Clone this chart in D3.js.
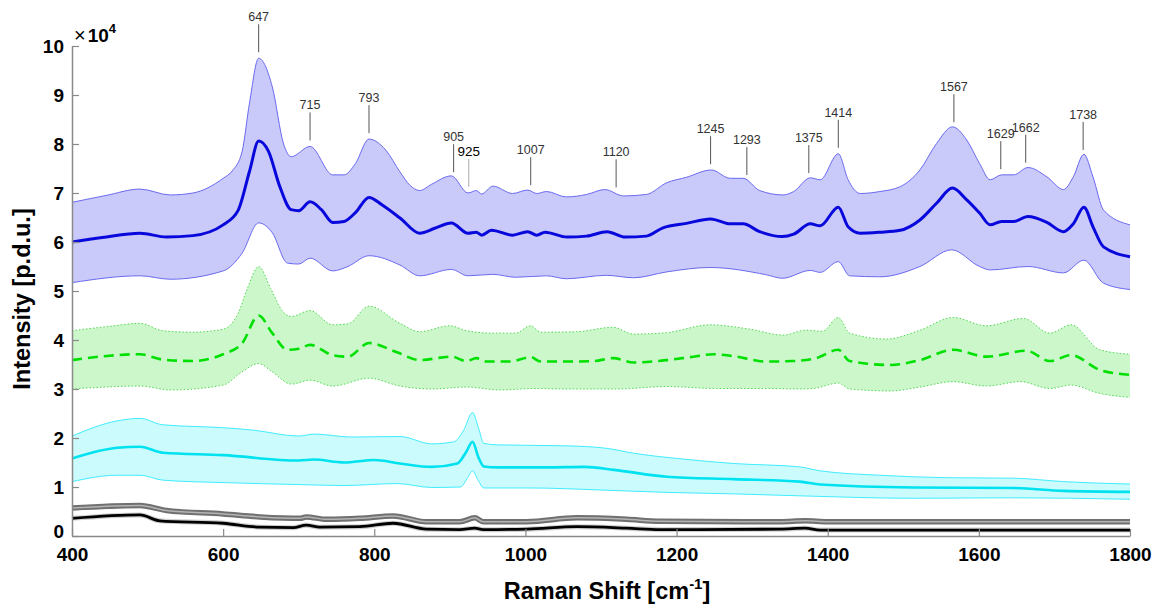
<!DOCTYPE html>
<html>
<head>
<meta charset="utf-8">
<script src="https://cdn.jsdelivr.net/npm/d3@7"></script>
<style>
  body { margin: 0; background: #fff; }
  svg { display: block; font-family: "Liberation Sans", Arial, sans-serif; }
</style>
</head>
<body>
<svg id="chart" width="1157" height="605"></svg>
<script>
// Raman spectra: mean ± SD per group, intensity in units of 10^4 p.d.u.
const xTicks = [400, 600, 800, 1000, 1200, 1400, 1600, 1800];
const yTicks = [0, 1, 2, 3, 4, 5, 6, 7, 8, 9, 10];
const peakLabels = [647, 715, 793, 905, 925, 1007, 1120, 1245, 1293, 1375, 1414, 1567, 1629, 1662, 1738];

const blueMean = [[400,6.0],[440,6.09],[490,6.18],[525,6.1],[560,6.13],[600,6.35],[620,6.65],[635,7.45],[647,8.06],[660,7.85],[675,7.13],[690,6.66],[700,6.64],[715,6.82],[730,6.66],[745,6.4],[760,6.42],[775,6.6],[793,6.91],[810,6.76],[834,6.49],[860,6.18],[880,6.28],[902,6.39],[924,6.18],[935,6.2],[942,6.14],[955,6.24],[983,6.14],[1003,6.21],[1015,6.14],[1026,6.2],[1055,6.1],[1081,6.12],[1108,6.21],[1132,6.1],[1160,6.12],[1182,6.29],[1213,6.38],[1245,6.47],[1271,6.37],[1288,6.37],[1310,6.21],[1340,6.11],[1355,6.16],[1377,6.37],[1390,6.33],[1414,6.71],[1427,6.31],[1443,6.18],[1469,6.2],[1496,6.24],[1522,6.45],[1544,6.79],[1565,7.1],[1584,6.86],[1601,6.59],[1615,6.35],[1630,6.42],[1646,6.42],[1665,6.52],[1690,6.4],[1712,6.21],[1725,6.37],[1739,6.71],[1751,6.31],[1765,5.9],[1800,5.7]];
const blueUpper = [[400,6.81],[445,6.95],[490,7.08],[530,6.96],[560,7.0],[600,7.3],[612,7.45],[625,7.84],[635,8.85],[647,9.75],[665,9.17],[680,8.0],[690,7.74],[715,7.95],[745,7.37],[760,7.37],[775,7.6],[793,8.1],[815,7.88],[834,7.43],[847,7.16],[860,7.05],[876,7.18],[902,7.35],[924,7.0],[935,7.05],[942,6.98],[957,7.14],[983,6.99],[1003,7.06],[1015,6.99],[1028,7.03],[1054,6.92],[1081,6.97],[1105,7.07],[1130,6.94],[1160,6.97],[1187,7.21],[1213,7.32],[1246,7.47],[1271,7.3],[1288,7.3],[1310,7.05],[1341,6.96],[1355,7.03],[1377,7.31],[1390,7.27],[1414,7.8],[1427,7.27],[1443,6.99],[1469,7.03],[1496,7.13],[1522,7.47],[1544,8.01],[1565,8.35],[1584,8.08],[1601,7.6],[1615,7.27],[1630,7.37],[1646,7.37],[1665,7.52],[1690,7.33],[1712,7.07],[1725,7.33],[1739,7.79],[1751,7.33],[1765,6.65],[1800,6.35]];
const blueLower = [[400,5.17],[490,5.31],[530,5.24],[600,5.41],[625,5.77],[647,6.39],[665,6.19],[685,5.57],[700,5.55],[715,5.67],[745,5.41],[765,5.5],[793,5.72],[834,5.53],[860,5.31],[902,5.44],[924,5.31],[957,5.34],[987,5.28],[1028,5.31],[1054,5.25],[1107,5.32],[1143,5.27],[1187,5.39],[1244,5.48],[1319,5.33],[1340,5.26],[1377,5.42],[1390,5.38],[1414,5.6],[1429,5.31],[1469,5.29],[1522,5.5],[1564,5.84],[1601,5.5],[1615,5.43],[1665,5.5],[1712,5.37],[1739,5.63],[1765,5.16],[1800,5.03]];

const greenMean = [[400,3.59],[450,3.68],[490,3.71],[520,3.6],[560,3.57],[600,3.71],[625,3.93],[647,4.5],[665,4.14],[685,3.8],[700,3.82],[715,3.9],[745,3.69],[765,3.66],[793,3.94],[830,3.75],[860,3.59],[902,3.66],[922,3.57],[935,3.63],[949,3.56],[980,3.56],[1007,3.65],[1020,3.56],[1055,3.56],[1090,3.57],[1116,3.63],[1143,3.54],[1187,3.59],[1218,3.65],[1249,3.71],[1275,3.67],[1319,3.56],[1354,3.57],[1385,3.63],[1414,3.8],[1429,3.57],[1483,3.49],[1522,3.59],[1566,3.8],[1610,3.66],[1663,3.78],[1694,3.57],[1722,3.69],[1760,3.39],[1800,3.29]];
const greenUpper = [[400,4.19],[450,4.28],[490,4.34],[520,4.19],[560,4.16],[600,4.22],[620,4.55],[632,5.05],[647,5.5],[663,5.05],[678,4.6],[690,4.48],[715,4.6],[745,4.31],[765,4.33],[793,4.69],[834,4.34],[860,4.17],[900,4.29],[922,4.19],[957,4.14],[987,4.14],[1007,4.29],[1020,4.16],[1068,4.17],[1116,4.26],[1143,4.12],[1187,4.15],[1244,4.31],[1297,4.22],[1341,4.1],[1371,4.2],[1393,4.18],[1414,4.46],[1429,4.14],[1478,4.02],[1522,4.2],[1566,4.46],[1610,4.29],[1659,4.44],[1694,4.14],[1722,4.31],[1760,3.8],[1800,3.71]];
const greenLower = [[400,3.0],[490,3.06],[530,2.98],[600,3.08],[625,3.35],[647,3.52],[665,3.35],[690,3.1],[715,3.18],[745,3.06],[793,3.22],[834,3.06],[876,3.0],[922,3.04],[966,2.98],[1011,3.01],[1055,3.0],[1121,3.0],[1187,3.05],[1253,3.01],[1319,3.01],[1363,3.0],[1381,3.01],[1414,3.12],[1429,3.0],[1483,2.96],[1522,3.04],[1566,3.15],[1610,3.06],[1655,3.15],[1694,3.01],[1722,3.08],[1760,2.91],[1800,2.83]];

const cyanMean = [[400,1.58],[460,1.8],[490,1.82],[520,1.7],[600,1.65],[700,1.54],[720,1.56],[760,1.5],[800,1.55],[834,1.48],[876,1.41],[910,1.48],[921,1.7],[930,1.92],[938,1.6],[945,1.42],[963,1.4],[1029,1.4],[1078,1.41],[1117,1.35],[1187,1.21],[1275,1.16],[1363,1.11],[1390,1.05],[1513,0.99],[1646,0.98],[1712,0.92],[1800,0.9]];
const cyanUpper = [[400,2.04],[460,2.35],[490,2.4],[520,2.27],[600,2.21],[640,2.16],[700,2.04],[720,2.08],[770,2.02],[834,2.03],[876,1.88],[905,1.92],[918,2.15],[930,2.52],[938,2.2],[945,1.89],[963,1.86],[1055,1.84],[1107,1.79],[1143,1.69],[1209,1.57],[1275,1.48],[1363,1.41],[1390,1.33],[1469,1.24],[1557,1.19],[1646,1.18],[1712,1.11],[1800,1.06]];
const cyanLower = [[400,1.11],[460,1.24],[490,1.24],[520,1.14],[600,1.09],[700,1.05],[760,1.03],[830,1.07],[876,0.99],[914,1.0],[924,1.2],[930,1.33],[937,1.15],[945,0.98],[1007,0.98],[1099,0.94],[1187,0.89],[1275,0.86],[1363,0.82],[1513,0.77],[1646,0.78],[1800,0.75]];

const grayMean = [[400,0.57],[490,0.62],[525,0.52],[600,0.45],[649,0.39],[702,0.36],[710,0.39],[737,0.34],[781,0.36],[825,0.41],[869,0.29],[913,0.29],[933,0.37],[944,0.29],[1002,0.29],[1068,0.37],[1134,0.34],[1178,0.3],[1337,0.29],[1370,0.31],[1400,0.29],[1800,0.29]];
const blackMean = [[400,0.36],[490,0.43],[516,0.31],[600,0.26],[649,0.18],[693,0.17],[710,0.22],[728,0.18],[781,0.19],[825,0.26],[869,0.14],[913,0.13],[933,0.16],[944,0.13],[1002,0.14],[1068,0.19],[1134,0.16],[1178,0.13],[1337,0.14],[1370,0.16],[1390,0.12],[1800,0.12]];

const svg = d3.select("#chart");
const x = d3.scaleLinear().domain([400, 1800]).range([72, 1130]);
const y = d3.scaleLinear().domain([0, 10]).range([536, 46]);

const line = d3.line().x(d => x(d[0])).y(d => y(d[1])).curve(d3.curveMonotoneX);
const band = (up, lo) => line(up) + line(lo.slice().reverse()).replace(/^M/, "L") + "Z";

// shaded ±SD bands with their edge lines and mean line
function group(up, lo, mean, fill, edge, edgeDash, meanColor, meanWidth, meanDash) {
  const g = svg.append("g");
  g.append("path").attr("d", band(up, lo)).attr("fill", fill).attr("stroke", "none");
  [up, lo].forEach(s => g.append("path").attr("d", line(s)).attr("fill", "none")
    .attr("stroke", edge).attr("stroke-width", 1).attr("stroke-dasharray", edgeDash));
  g.append("path").attr("d", line(mean)).attr("fill", "none").attr("stroke", meanColor)
    .attr("stroke-width", meanWidth).attr("stroke-dasharray", meanDash)
    .attr("stroke-linejoin", "round");
}
group(blueUpper, blueLower, blueMean, "#c9c9fa", "#6a6af0", null, "#0808dc", 3, null);
group(greenUpper, greenLower, greenMean, "#cbf7cb", "#4fd84f", "1.5,2", "#00e000", 2.6, "10,6");
group(cyanUpper, cyanLower, cyanMean, "#ccfbfd", "#40ecff", null, "#00e2f0", 2.6, null);

// low-intensity traces near the baseline
svg.append("path").attr("d", line(grayMean)).attr("fill", "none").attr("stroke", "#707070").attr("stroke-width", 5.5);
svg.append("path").attr("d", line(grayMean)).attr("fill", "none").attr("stroke", "#b4b4b4").attr("stroke-width", 1.5);
svg.append("path").attr("d", line(blackMean)).attr("fill", "none").attr("stroke", "#cfcfcf").attr("stroke-width", 5);
svg.append("path").attr("d", line(blackMean)).attr("fill", "none").attr("stroke", "#000").attr("stroke-width", 2.8);

// axes
const axisColor = "#8a8a8a";
const yAxis = svg.append("g").attr("transform", `translate(${x(400)},0)`)
  .call(d3.axisLeft(y).tickValues(yTicks).tickSize(-7).tickSizeOuter(0).tickPadding(8));
const xAxis = svg.append("g").attr("transform", `translate(0,${y(0)})`)
  .call(d3.axisBottom(x).tickValues(xTicks).tickSize(-7).tickSizeOuter(0).tickPadding(12).tickFormat(d3.format("d")));
[xAxis, yAxis].forEach(a => {
  a.select(".domain").attr("stroke", axisColor).attr("stroke-width", 1.5);
  a.selectAll(".tick line").attr("stroke", axisColor).attr("stroke-width", 1.2);
  a.selectAll(".tick text").attr("fill", "#000").attr("font-size", 19).attr("font-weight", "bold")
    .attr("font-family", "'Liberation Sans', Arial, sans-serif");
});
// the zero label sits in the corner next to the first x label; lift it a touch
yAxis.selectAll(".tick").filter(d => d === 0).select("text").attr("dy", "0.1em");

// exponent marker
const mult = svg.append("text").attr("x", 74).attr("y", 42).attr("fill", "#000");
mult.append("tspan").attr("font-size", 20).text("×");
mult.append("tspan").attr("font-size", 19).attr("font-weight", "bold").attr("dx", 2).text("10");
mult.append("tspan").attr("font-size", 13).attr("font-weight", "bold").attr("dy", -9).text("4");

// axis titles
svg.append("text").attr("transform", "translate(30,299) rotate(-90)")
  .attr("text-anchor", "middle").attr("font-size", 23.5).attr("font-weight", "bold").attr("fill", "#000")
  .text("Intensity [p.d.u.]");
const xt = svg.append("text").attr("x", 607).attr("y", 599)
  .attr("text-anchor", "middle").attr("font-size", 23.5).attr("font-weight", "bold").attr("fill", "#000");
xt.append("tspan").text("Raman Shift [cm");
xt.append("tspan").attr("font-size", 15).attr("dy", -10).text("-1");
xt.append("tspan").attr("dy", 10).text("]");

// peak annotations above the upper SD edge of the top group
function valueAt(arr, w) {
  const i = Math.max(1, d3.bisector(d => d[0]).left(arr, w));
  const a = arr[i - 1], b = arr[Math.min(i, arr.length - 1)];
  const t = b[0] === a[0] ? 0 : (w - a[0]) / (b[0] - a[0]);
  return a[1] + t * (b[1] - a[1]);
}
const ann = svg.append("g");
peakLabels.forEach(p => {
  const yb = y(valueAt(blueUpper, p)) - 6;
  const yt = yb - 28;
  const special = p === 925;
  ann.append("line").attr("x1", x(p)).attr("x2", x(p)).attr("y1", yt).attr("y2", yb)
    .attr("stroke", special ? "#aaa" : "#555").attr("stroke-width", 1);
  ann.append("text").attr("x", x(p)).attr("y", yt - 3).attr("text-anchor", "middle")
    .attr("font-size", special ? 13.5 : 12.5).attr("fill", special ? "#000" : "#333").text(p);
});
</script>
</body>
</html>
